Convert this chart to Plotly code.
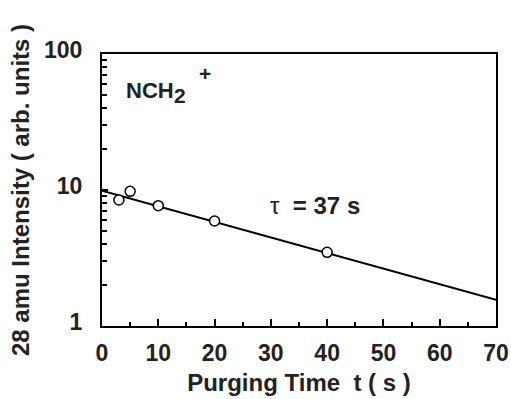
import plotly.graph_objects as go

# ---- data ----
purge_time_s = [3, 5, 10, 20, 40]
intensity = [8.44, 9.78, 7.67, 5.92, 3.48]
fit_time_s = [0, 70]
fit_intensity = [9.9, 1.56]

x_tick_vals = [0, 10, 20, 30, 40, 50, 60, 70]
y_tick_vals = [1, 10, 100]
y_tick_text = ["1", "10", "100"]
y_minor_vals = [2, 3, 4, 5, 6, 7, 8, 9, 20, 30, 40, 50, 60, 70, 80, 90]

x_title = "Purging Time  t ( s )"
y_title = "28 amu Intensity ( arb. units )"
species_label = "NCH"
tau_label = "τ  <b>= 37 s</b>"

# ---- layout geometry ----
W, H = 511, 399
L, R, T, B = 102, 15, 54, 73
PW, PH = W - L - R, H - T - B
FONT = "Liberation Sans, Arial, sans-serif"


def px(xp):
    return (xp - L) / PW


def py(yp):
    return (H - B - yp) / PH


fig = go.Figure()
fig.add_trace(go.Scatter(
    x=fit_time_s, y=fit_intensity, mode="lines",
    line=dict(color="black", width=2), showlegend=False, hoverinfo="skip"))
fig.add_trace(go.Scatter(
    x=purge_time_s, y=intensity, mode="markers",
    marker=dict(symbol="circle", size=10, color="white",
                line=dict(color="black", width=1.5)),
    showlegend=False))

annots = [
    dict(text=species_label, x=px(124), y=py(91), xanchor="left", yanchor="middle",
         font=dict(size=22, family=FONT, weight="bold", color="#222")),
    dict(text="2", x=px(172), y=py(95), xanchor="left", yanchor="middle",
         font=dict(size=21, family=FONT, weight="bold", color="#222")),
    dict(text="+", x=px(197), y=py(74), xanchor="left", yanchor="middle",
         font=dict(size=21, family=FONT, weight="bold", color="#222")),
    dict(text=tau_label, x=px(268), y=py(205), xanchor="left", yanchor="middle",
         font=dict(size=24, family=FONT, color="#222")),
]
for a in annots:
    a.update(xref="paper", yref="paper", showarrow=False)

fig.update_layout(
    width=W, height=H,
    margin=dict(l=L, r=R, t=T, b=B, pad=0),
    paper_bgcolor="white", plot_bgcolor="white",
    font=dict(family=FONT, color="#222"),
    annotations=annots,
    xaxis=dict(
        range=[0, 70], tickvals=x_tick_vals, ticks="inside", ticklen=7, tickwidth=1.5,
        tickcolor="black", showline=True, linecolor="black", linewidth=2, mirror=True,
        showgrid=False, zeroline=False, ticklabelstandoff=5, automargin=False,
        tickfont=dict(size=23, family=FONT, weight="bold", color="#222"),
        minor=dict(dtick=5, tick0=0, ticks="inside", ticklen=4, tickwidth=1.5,
                   tickcolor="black", showgrid=False),
        title=dict(text=x_title, standoff=10,
                   font=dict(size=24, family=FONT, weight="bold", color="#222")),
    ),
    yaxis=dict(
        type="log", range=[0, 2], tickvals=y_tick_vals, ticktext=y_tick_text,
        ticks="inside", ticklen=6, tickwidth=1.5, tickcolor="black",
        showline=True, linecolor="black", linewidth=2, mirror=True,
        showgrid=False, zeroline=False, ticklabelstandoff=13, ticklabelshift=-4,
        automargin=False,
        tickfont=dict(size=23, family=FONT, weight="bold", color="#222"),
        minor=dict(tickvals=y_minor_vals, ticks="inside", ticklen=5, tickwidth=1.5,
                   tickcolor="black", showgrid=False),
        title=dict(text=y_title, standoff=8,
                   font=dict(size=24, family=FONT, weight="bold", color="#222")),
    ),
)

fig.write_html(
    "out.html",
    config={"displayModeBar": False},
    post_script="document.body.style.margin='0';document.body.style.overflow='hidden';",
)
